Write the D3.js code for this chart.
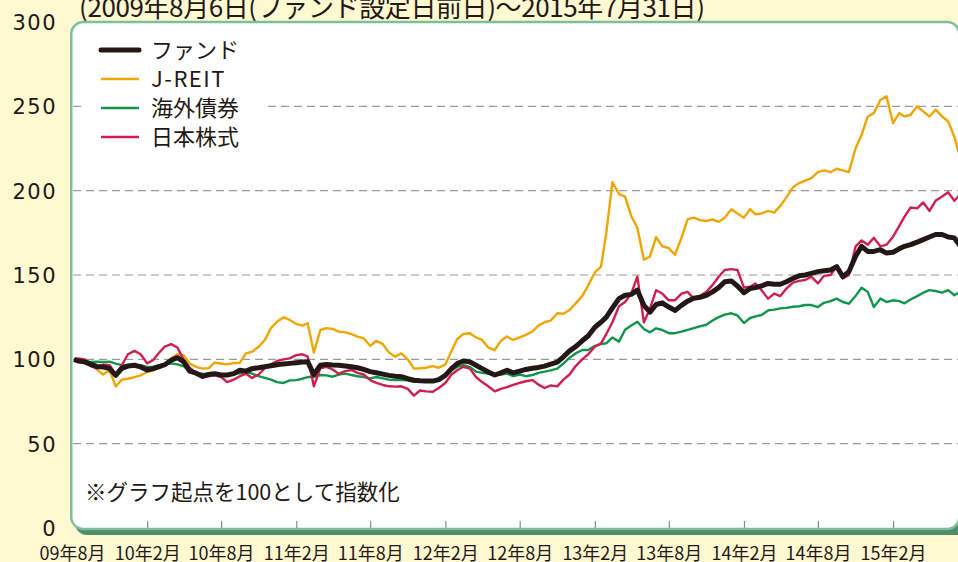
<!DOCTYPE html>
<html>
<head>
<meta charset="utf-8">
<script src="https://cdn.jsdelivr.net/npm/d3@7"></script>
<style>
  body { margin: 0; background: #fff9d2; }
  svg { display: block; font-family: "Noto Sans CJK JP", "Noto Sans", sans-serif; }
</style>
</head>
<body>
<svg id="chart" width="958" height="562"></svg>
<script>
(function(){

	// semi-monthly readings, 2009-08-06 .. 2015-07-31
	var dates = d3.range(144).map(function(i){
		return i === 0 ? new Date(2009, 7, 6) : new Date(2009, 7 + Math.floor(i / 2), i % 2 ? 16 : 1);
	});
	dates.push(new Date(2015, 6, 31));

	var fund = [
		100, 99, 98.5, 97, 95.8, 95.5, 94.5, 90.5, 94.7, 96, 96.5, 95.5,
		93.7, 94.5, 95.5, 96.8, 99.5, 101, 98.6, 93, 91.8, 90, 91, 91.5,
		90.7, 90.7, 91.5, 93.5, 93, 94.5, 95, 95.6, 96.2, 96.8, 97.3, 97.6,
		98, 98.4, 98.6, 91, 96.5, 97, 96.6, 96.5, 96, 95.6, 95, 94,
		92.7, 92, 91.2, 90.5, 90, 89.7, 88.5, 87.6, 87.3, 87.2, 87.1, 88,
		90.5, 94.5, 97.5, 99, 98.5, 96.5, 94.5, 92.5, 90.7, 92, 93.5, 92,
		93, 94, 94.7, 95.2, 96, 97.2, 98.3, 101.5, 105, 107.5, 111, 114,
		119, 122, 125, 130.5, 136, 138, 138.5, 141, 132, 128, 132.5, 133.5,
		131, 129, 132, 134.5, 136.2, 136.8, 138, 140, 142.5, 146, 146.5, 143.5,
		139.5, 142, 142.5, 143.5, 145, 144.5, 144.5, 146, 148, 149.5, 150, 151,
		152, 152.5, 153, 155, 149, 152, 161, 167, 164, 164, 165, 163,
		163.5, 165.5, 167, 168, 169.5, 171, 172.5, 174, 174, 172.5, 172, 167,
		169
	];
	var jreit = [
		100, 99.5, 98.5, 97.5, 94, 91, 93.5, 84, 88, 88.5, 89.5, 90.5,
		92.5, 93.5, 95, 96.6, 100.5, 103, 102.5, 97.5, 95.5, 94.5, 94.7, 98,
		97.5, 97, 97.8, 98, 103.5, 104.5, 107.5, 111.5, 118.5, 122.3, 125, 123.3,
		121, 120, 121.5, 104, 117.4, 118.5, 118, 116.4, 116, 115, 113.5, 112.5,
		108, 111, 109, 104, 101.6, 103.5, 100, 94.5, 94.7, 95, 96, 95,
		97, 105, 112, 115, 115.5, 113, 111.5, 107, 105.5, 111, 113.5, 111.5,
		113, 114.5, 116.5, 120, 122, 123, 127.3, 127, 129.2, 133.2, 137.5, 144,
		151.5, 155, 175, 205, 198, 196.5, 185, 178, 159, 161, 172.5, 167,
		166, 162, 172, 183, 184, 182.5, 182, 183, 181.5, 184, 189, 186.5,
		184, 189, 186, 186.5, 188, 187, 191, 196, 202, 204.5, 206, 207.5,
		211, 212, 211, 213, 212, 211, 225, 233, 244, 246, 253.7, 256,
		240, 246, 244, 245, 250, 247, 244, 248, 244, 241, 232, 219,
		236
	];
	var foreignBond = [
		100, 99.5, 99, 98.5, 98.6, 98.5, 98.6, 97.5, 96.6, 96.5, 96.6, 96.5,
		95.5, 95.6, 96.5, 97, 97.6, 97, 96, 93, 92, 91.5, 90.7, 90.5,
		90.7, 91, 91.5, 91.7, 92.5, 91.5, 90, 89, 88, 86.5, 86, 87.5,
		87.7, 88.5, 89.5, 89.5, 90.7, 90.5, 89.7, 91, 91.5, 90.7, 90, 89.5,
		88.7, 89.5, 88.7, 88, 87.7, 87.7, 87.5, 86.7, 86.8, 87, 87.5, 88.5,
		90, 93.5, 95.5, 96.6, 95.5, 92.7, 92, 91.5, 90.7, 91, 91.5, 90,
		91, 90, 90.7, 92, 92.7, 93.5, 94.5, 97.5, 101, 103.5, 105.5, 105.5,
		108, 109, 109.5, 113, 110.5, 117.5, 120, 122.3, 118, 116, 118.4, 117.4,
		115.5, 115.5, 116.4, 117.5, 118.5, 119.5, 120.5, 123, 125, 126.5, 127.3, 126,
		121.5, 124.5, 125.5, 126.3, 129, 129.5, 130.2, 130.5, 131.2, 131.5, 132.2, 132.2,
		131, 133.5, 134.5, 136, 134, 133, 137.5, 142.5, 140, 131, 136, 134,
		135, 134.5, 133.2, 135.5, 137.5, 139.5, 141, 140.5, 139.5, 141, 138, 140,
		139.5
	];
	var japanStock = [
		100, 100.5, 100, 96, 94.5, 97, 96.5, 91, 96.5, 103, 105, 103,
		97.6, 99.6, 103.6, 107.5, 109, 107, 100, 95, 92, 89, 90, 90.7,
		89.5, 86.5, 88, 90, 91.5, 89, 91, 94.7, 97, 99, 100, 100.6,
		102.5, 103, 101.6, 84, 94.7, 95.5, 94, 91.5, 93, 93.7, 92, 91,
		87.7, 86, 84.8, 84, 83.8, 84, 82.5, 78.5, 81.5, 81, 80.8, 83,
		86, 91, 93.5, 95.6, 94.5, 89.5, 86.5, 84, 81, 82.5, 83.5, 84.8,
		86, 87, 87.7, 85, 83, 84.5, 84, 88, 91, 96, 100, 103,
		107.5, 109.5, 115, 122, 131.5, 134, 139, 149, 122, 130, 141, 139,
		135, 135, 139, 140, 136, 137.5, 140, 144, 149, 153, 153.5, 153,
		142.5, 143, 145, 141, 136, 139, 137.5, 142, 145.5, 146.5, 147, 149,
		145, 149.5, 150, 155, 148, 150, 166.8, 170.5, 168, 172, 167, 168,
		172.7, 179, 184.6, 190, 189.5, 193, 188, 194, 196.5, 199, 194, 198,
		197
	];

	var seriesNames = ["ファンド", "J-REIT", "海外債券", "日本株式"];
	var seriesColors = ["#231815", "#eea600", "#10954b", "#cf1f50"];
	var seriesWidths = [5, 2.4, 2.4, 2.4];

	var yTicks = [0, 50, 100, 150, 200, 250, 300];
	var xTickDates = d3.range(12).map(function(i){ return new Date(2009, 7 + i * 6, 1); });
	var xTickLabels = ["09年8月", "10年2月", "10年8月", "11年2月", "11年8月", "12年2月",
		"12年8月", "13年2月", "13年8月", "14年2月", "14年8月", "15年2月"];

	var titleText = "(2009年8月6日(ファンド設定日前日)～2015年7月31日)";
	var noteText = "※グラフ起点を100として指数化";

	var svg = d3.select("#chart");
	var left = 72, top = 22, bottom = 528;

	var x = d3.scaleTime()
		.domain([new Date(2009, 7, 1), new Date(2015, 7, 1)])
		.range([left, 967]);
	var y = d3.scaleLinear()
		.domain([0, 300])
		.range([bottom, top]);

	// title (cut off at the top)
	svg.append("text")
		.attr("x", 79)
		.attr("y", 17)
		.attr("fill", "#231815")
		.attr("textLength", 626)
		.attr("lengthAdjust", "spacing")
		.style("font-size", "26px")
		.text(titleText);

	// frame
	svg.append("rect")
		.attr("x", 75).attr("y", 26)
		.attr("width", 900).attr("height", 509)
		.attr("rx", 12)
		.attr("fill", "#4f8c6c");
	svg.append("rect")
		.attr("x", 71.25).attr("y", 22)
		.attr("width", 888).attr("height", 507)
		.attr("rx", 12)
		.attr("fill", "#fff")
		.attr("stroke", "#7cbf9b")
		.attr("stroke-width", 2.5);

	// gridlines
	svg.append("g")
		.selectAll("line")
		.data(yTicks.filter(function(d){ return d > 0 && d < 300; }))
		.enter().append("line")
			.attr("x1", left + 1)
			.attr("x2", 958)
			.attr("y1", function(d){ return y(d); })
			.attr("y2", function(d){ return y(d); })
			.attr("stroke", "#9a9a9a")
			.attr("stroke-width", 1.2)
			.attr("stroke-dasharray", "8,5");

	// y labels
	var yAxis = svg.append("g")
		.attr("transform", "translate(57,0)")
		.call(d3.axisLeft(y).tickValues(yTicks).tickSize(0).tickPadding(0));
	yAxis.select(".domain").remove();
	yAxis.selectAll("text")
		.attr("fill", "#231815")
		.style("font-size", "21px")
		.style("letter-spacing", "1.5px")
		.style("font-family", "\"DejaVu Sans\", sans-serif")
		.attr("dy", "0.36em");

	// x axis: ticks point up into the plot
	var xAxis = svg.append("g")
		.attr("transform", "translate(0," + bottom + ")")
		.call(d3.axisBottom(x)
			.tickValues(xTickDates)
			.tickFormat(function(d, i){ return xTickLabels[i]; })
			.tickSize(-7));
	xAxis.select(".domain").remove();
	xAxis.selectAll(".tick line")
		.attr("stroke", "#8a8a8a")
		.attr("stroke-width", 1.2)
		.style("display", function(d, i){ return i === 0 ? "none" : null; });
	xAxis.selectAll(".tick text")
		.attr("y", 32)
		.attr("dy", 0)
		.attr("fill", "#231815")
		.style("font-size", "18px")
		.style("font-family", "\"Noto Sans CJK JP\", sans-serif");

	// series lines (J-REIT, bonds, stocks, then fund on top)
	var line = d3.line()
		.x(function(d, i){ return x(dates[i]); })
		.y(function(d){ return y(d); });

	var allSeries = [fund, jreit, foreignBond, japanStock];
	[1, 2, 3, 0].forEach(function(k){
		svg.append("path")
			.datum(allSeries[k])
			.attr("d", line)
			.attr("fill", "none")
			.attr("stroke", seriesColors[k])
			.attr("stroke-width", seriesWidths[k])
			.attr("stroke-linejoin", "round");
	});

	// legend
	svg.append("rect")
		.attr("x", 82).attr("y", 34)
		.attr("width", 186).attr("height", 122)
		.attr("fill", "#fff");

	var legend = svg.append("g")
		.selectAll("g")
		.data(seriesNames)
		.enter().append("g")
			.attr("transform", function(d, i){ return "translate(0," + (50 + i * 29) + ")"; });

	legend.append("line")
		.attr("x1", 101).attr("x2", 139)
		.attr("stroke", function(d, i){ return seriesColors[i]; })
		.attr("stroke-width", function(d, i){ return i === 0 ? 5 : 2.6; })
		.attr("stroke-linecap", function(d, i){ return i === 0 ? "round" : "butt"; });

	legend.append("text")
		.attr("x", 151)
		.attr("dy", "0.36em")
		.attr("fill", "#231815")
		.style("font-size", "22px")
		.style("letter-spacing", function(d, i){ return i === 1 ? "1.5px" : null; })
		.text(function(d){ return d; });

	// note
	svg.append("text")
		.attr("x", 85)
		.attr("y", 492)
		.attr("dy", "0.36em")
		.attr("fill", "#231815")
		.style("font-size", "21.5px")
		.text(noteText);

})();
</script>
</body>
</html>
